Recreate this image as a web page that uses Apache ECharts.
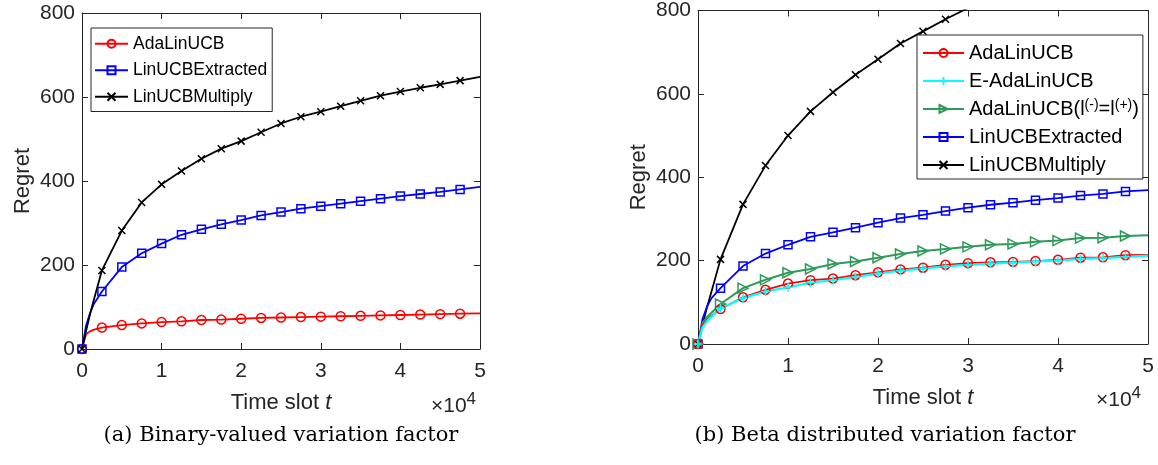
<!DOCTYPE html>
<html>
<head>
<meta charset="utf-8">
<title>Regret vs time slot</title>
<script src="https://cdn.jsdelivr.net/npm/echarts@6/dist/echarts.min.js"></script>
<style>
  html, body { margin: 0; padding: 0; background: #fff; }
  #chart { width: 1158px; height: 465px; }
</style>
</head>
<body>
<div id="chart"></div>
<script>
// Time slots at which regret was recorded (markers every 2500 slots)
const timeSlots = [0, 500, 1000, 1500, 2500, 5000, 7500, 10000, 12500, 15000, 17500, 20000,
  22500, 25000, 27500, 30000, 32500, 35000, 37500, 40000, 42500, 45000, 47500, 50000];

// (a) Binary-valued variation factor
const binAdaLinUCB = [0, 35, 42, 46, 51, 57, 61, 64, 66, 69, 70, 72, 74, 75, 76, 77, 78, 79, 80, 81, 82, 83, 84, 85];
const binExtracted = [0, 55, 85, 108, 137, 195, 228, 251, 272, 285, 297, 307, 318, 326, 334, 340, 346, 352, 358, 364, 369, 374, 380, 386];
const binMultiply  = [0, 42, 82, 118, 187, 282, 349, 392, 424, 453, 477, 495, 516, 537, 553, 565, 578, 591, 603, 613, 622, 630, 639, 648];

// (b) Beta distributed variation factor
const betaAdaLinUCB  = [0, 45, 58, 68, 84, 112, 130, 145, 153, 157, 165, 172, 179, 183, 190, 194, 196, 197, 199, 202, 207, 208, 213, 214];
const betaEAdaLinUCB = [0, 40, 55, 65, 86, 110, 126, 136, 147, 153, 161, 169, 176, 181, 186, 190, 193, 195, 198, 200, 204, 206, 209, 212];
const betaAdaEqual   = [0, 50, 65, 75, 96, 134, 154, 171, 180, 192, 198, 207, 216, 223, 228, 233, 238, 240, 245, 248, 254, 255, 259, 261];
const betaExtracted  = [0, 60, 90, 110, 134, 187, 217, 238, 257, 268, 279, 291, 302, 310, 319, 327, 334, 339, 345, 350, 356, 360, 366, 369];
const betaMultiply   = [0, 45, 88, 126, 203, 335, 428, 500, 558, 604, 646, 683, 721, 750, 779, 806, 826];

const xTicks = [0, 1, 2, 3, 4, 5];          // ×10^4
const yTicks = [0, 200, 400, 600, 800];

const NAME_ADA = 'AdaLinUCB';
const NAME_EADA = 'E-AdaLinUCB';
const NAME_EQ = 'AdaLinUCB(l(-)=l(+))';
const NAME_EXT = 'LinUCBExtracted';
const NAME_MUL = 'LinUCBMultiply';

const AXIS_COLOR = '#262626';
const SANS = '"Liberation Sans", Arial, Helvetica, sans-serif';
const SERIF = '"DejaVu Serif", "Liberation Serif", serif';

const MARK = {
  circle: 'circle',
  square: 'rect',
  cross: 'path://M0 0L10 10M10 0L0 10',
  plus: 'path://M5 0L5 10M0 5L10 5',
  triangle: 'path://M0 0L10 5L0 10Z'
};

// markers only on every 2500th slot, the rest of the curve is plain line
function toPoints(values) {
  return values.map(function (v, i) {
    const t = timeSlots[i];
    const item = { value: [t, v] };
    if (t % 2500 !== 0 || t >= 50000) item.symbol = 'none';
    return item;
  });
}

function curve(name, values, color, symbol, size, grid, width) {
  return {
    type: 'line',
    name: name,
    xAxisIndex: grid * 2,
    yAxisIndex: grid * 2,
    data: toPoints(values),
    symbol: symbol,
    symbolSize: size,
    showSymbol: true,
    showAllSymbol: true,
    smooth: false,
    clip: true,
    lineStyle: { color: color, width: width || 1.8 },
    itemStyle: { color: 'rgba(0,0,0,0)', borderColor: color, borderWidth: 1.5 },
    emphasis: { disabled: true }
  };
}

function xAxes(grid) {
  const common = {
    type: 'value', gridIndex: grid, min: 0, max: 50000, interval: 10000,
    axisLine: { onZero: false, lineStyle: { color: AXIS_COLOR, width: 1 } },
    axisTick: { inside: true, length: 6, lineStyle: { color: AXIS_COLOR } },
    splitLine: { show: false }
  };
  return [
    Object.assign({}, common, {
      position: 'bottom',
      name: 'Time slot {i|t}',
      nameLocation: 'middle',
      nameGap: 43,
      nameTextStyle: {
        fontFamily: SANS, fontSize: 22, color: AXIS_COLOR,
        rich: { i: { fontFamily: SANS, fontSize: 22, fontStyle: 'italic', color: AXIS_COLOR } }
      },
      axisLabel: {
        margin: 12, fontFamily: SANS, fontSize: 21, color: AXIS_COLOR,
        formatter: function (v) { return String(xTicks[Math.round(v / 10000)]); }
      }
    }),
    Object.assign({}, common, { position: 'top', axisLabel: { show: false } })
  ];
}

function yAxes(grid) {
  const common = {
    type: 'value', gridIndex: grid, min: 0, max: 800, interval: 200,
    axisLine: { show: true, onZero: false, lineStyle: { color: AXIS_COLOR, width: 1 } },
    axisTick: { show: true, inside: true, length: 6, lineStyle: { color: AXIS_COLOR } },
    splitLine: { show: false }
  };
  return [
    Object.assign({}, common, {
      position: 'left',
      name: 'Regret',
      nameLocation: 'middle',
      nameGap: 48,
      nameTextStyle: { fontFamily: SANS, fontSize: 22, color: AXIS_COLOR },
      axisLabel: {
        margin: 7, fontFamily: SANS, fontSize: 21, color: AXIS_COLOR,
        formatter: function (v) { return yTicks.indexOf(v) >= 0 ? String(v) : ''; }
      }
    }),
    Object.assign({}, common, { position: 'right', axisLabel: { show: false } })
  ];
}

function legendBox(names, pos, fontSize, itemWidth, itemGap, padding) {
  return {
    data: names,
    orient: 'vertical',
    left: pos[0], top: pos[1],
    padding: padding,
    itemGap: itemGap,
    itemWidth: itemWidth,
    itemHeight: 10,
    backgroundColor: '#fff',
    borderColor: AXIS_COLOR,
    borderWidth: 1,
    borderRadius: 0,
    selectedMode: false,
    textStyle: {
      fontFamily: SANS, fontSize: fontSize, color: '#000', lineHeight: fontSize + 2,
      rich: {
        sup: { fontFamily: SANS, fontSize: Math.round(fontSize * 0.68), color: '#000', verticalAlign: 'top', lineHeight: 12 }
      }
    },
    formatter: function (name) {
      if (name === NAME_EQ) return 'AdaLinUCB(l{sup|(-)}=l{sup|(+)})';
      return name;
    }
  };
}

const chart = echarts.init(document.getElementById('chart'), null, { renderer: 'canvas' });

// axis multiplier: "×10" with a raised exponent
const exponentText = {
  text: '{b|×10}{s|4}', fill: AXIS_COLOR, font: '21px ' + SANS,
  rich: {
    b: { fontFamily: SANS, fontSize: 21, fill: AXIS_COLOR, verticalAlign: 'bottom', lineHeight: 26 },
    s: { fontFamily: SANS, fontSize: 17, fill: AXIS_COLOR, verticalAlign: 'top', lineHeight: 14 }
  }
};

chart.setOption({
  animation: false,
  backgroundColor: '#fff',
  grid: [
    { left: 82, top: 13, width: 398, height: 336 },
    { left: 698, top: 8, width: 450, height: 336 }
  ],
  xAxis: xAxes(0).concat(xAxes(1)),
  yAxis: yAxes(0).concat(yAxes(1)),
  legend: [
    legendBox([NAME_ADA, NAME_EXT, NAME_MUL], [91, 28], 17.5, 33, 7, [6, 5, 5, 3]),
    legendBox([NAME_ADA, NAME_EADA, NAME_EQ, NAME_EXT, NAME_MUL], [917, 35], 20, 41, 6, [7, 4, 3, 5])
  ],
  series: [
    curve(NAME_ADA, binAdaLinUCB, '#ff0000', MARK.circle, 9, 0),
    curve(NAME_EXT, binExtracted, '#0000ff', MARK.square, 8, 0),
    curve(NAME_MUL, binMultiply, '#000000', MARK.cross, 7, 0),

    curve(NAME_MUL, betaMultiply, '#000000', MARK.cross, 7, 1),
    curve(NAME_EXT, betaExtracted, '#0000ff', MARK.square, 8, 1),
    curve(NAME_EQ, betaAdaEqual, '#2e9a5a', MARK.triangle, 10, 1, 2),
    curve(NAME_ADA, betaAdaLinUCB, '#ff0000', MARK.circle, 9, 1),
    curve(NAME_EADA, betaEAdaLinUCB, '#00ffff', MARK.plus, 9, 1, 2.2)
  ],
  graphic: [
    { type: 'text', left: 431, top: 391, silent: true, style: Object.assign({}, exponentText) },
    { type: 'text', left: 1096, top: 385, silent: true, style: Object.assign({}, exponentText) },
    {
      type: 'text', x: 281, y: 436, silent: true,
      style: {
        text: '(a) Binary-valued variation factor', fill: '#000',
        font: '21px ' + SERIF, align: 'center', verticalAlign: 'middle'
      }
    },
    {
      type: 'text', x: 885, y: 436, silent: true,
      style: {
        text: '(b) Beta distributed variation factor', fill: '#000',
        font: '21px ' + SERIF, align: 'center', verticalAlign: 'middle'
      }
    }
  ]
});
</script>
</body>
</html>
